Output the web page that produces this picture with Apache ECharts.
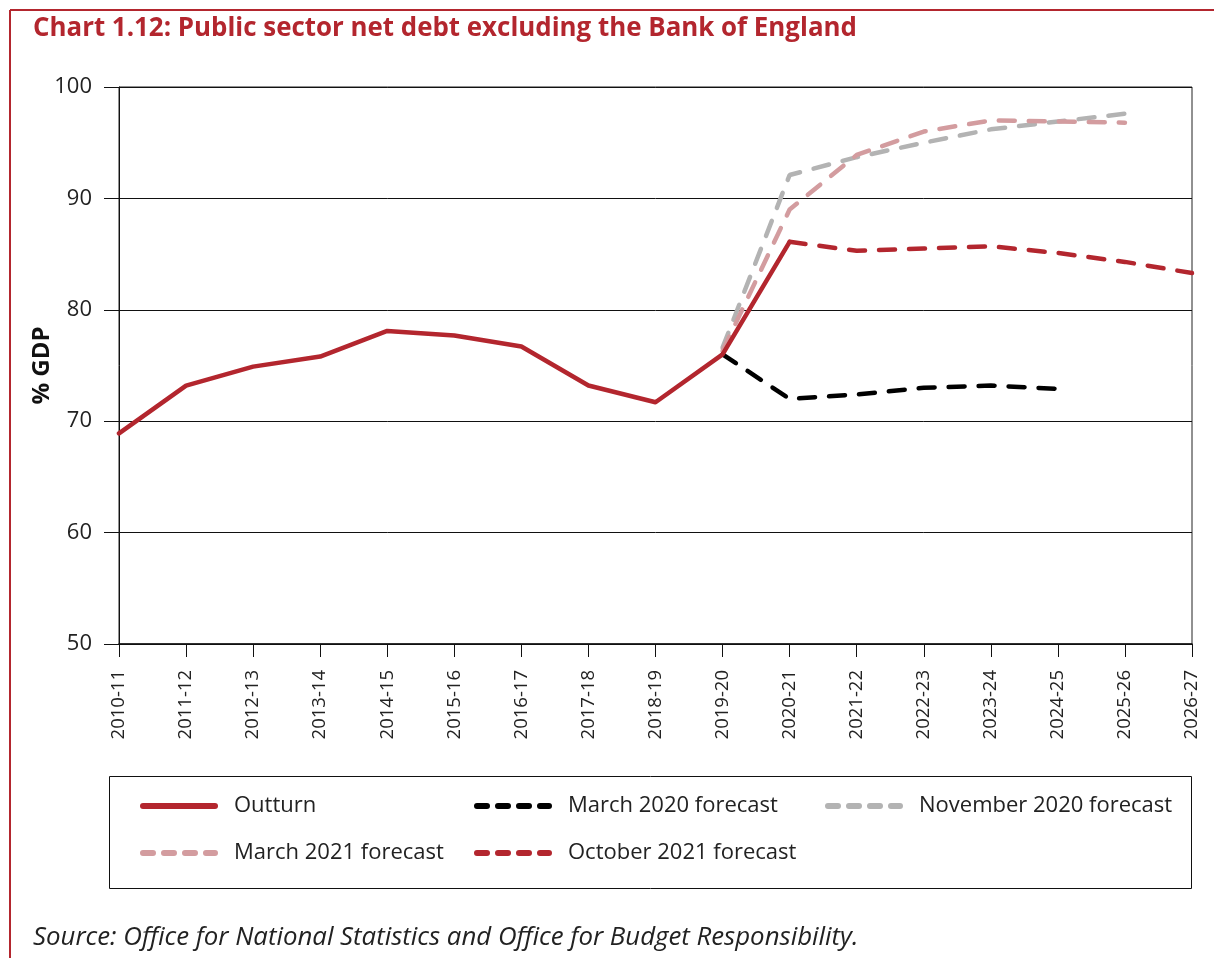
<!DOCTYPE html>
<html>
<head>
<meta charset="utf-8">
<script src="https://cdn.jsdelivr.net/npm/echarts@6/dist/echarts.min.js"></script>
<style>
html,body{margin:0;padding:0;background:#fff;}
#chart{width:1214px;height:958px;}
</style>
</head>
<body>
<div id="chart"></div>
<script>
var categories = ['2010-11','2011-12','2012-13','2013-14','2014-15','2015-16','2016-17','2017-18','2018-19','2019-20','2020-21','2021-22','2022-23','2023-24','2024-25','2025-26','2026-27'];
var outturn =   [68.9, 73.2, 74.9, 75.8, 78.1, 77.7, 76.7, 73.2, 71.7, 76.0, 86.1, null, null, null, null, null, null];
var march2020 = [null, null, null, null, null, null, null, null, null, 76.0, 72.0, 72.4, 73.0, 73.2, 72.9, null, null];
var nov2020 =   [null, null, null, null, null, null, null, null, null, 76.6, 92.1, 93.7, 95.0, 96.2, 96.9, 97.6, null];
var march2021 = [null, null, null, null, null, null, null, null, null, 76.3, 89.0, 93.9, 96.0, 97.0, 96.9, 96.8, null];
var oct2021 =   [null, null, null, null, null, null, null, null, null, null, 86.1, 85.3, 85.5, 85.7, 85.1, 84.3, 83.3];
var yTicks = {min: 50, max: 100, interval: 10};

var RED = '#b3262e';
var FONT = '"Open Sans", "Noto Sans", sans-serif';
var DASH_ICON = 'path://M3,0h10a3,3 0 0 1 0,6h-10a3,3 0 0 1 0,-6z M24,0h10a3,3 0 0 1 0,6h-10a3,3 0 0 1 0,-6z M45,0h10a3,3 0 0 1 0,6h-10a3,3 0 0 1 0,-6z M66,0h9a3,3 0 0 1 0,6h-9a3,3 0 0 1 0,-6z';
var SOLID_ICON = 'path://M3,0h72a3,3 0 0 1 0,6h-72a3,3 0 0 1 0,-6z';
var chart = echarts.init(document.getElementById('chart'), null, {renderer: 'canvas'});

function dashed(name, data, color, z) {
  return {
    name: name, type: 'line', data: data, symbol: 'none', z: z,
    lineStyle: {color: color, width: 4.5, type: [16, 14], cap: 'round'},
    itemStyle: {color: color},
    connectNulls: false, animation: false
  };
}
function legendAt(name, icon, left, top) {
  return {
    data: [{name: name, icon: icon}], left: left, top: top, itemWidth: 78, itemHeight: 6,
    padding: 0,
    textStyle: {fontFamily: FONT, fontSize: 22, color: '#222', padding: [0, 0, 0, 11]},
    itemGap: 10, selectedMode: false
  };
}

chart.setOption({
  animation: false,
  backgroundColor: '#fff',
  grid: {left: 119, right: 22, top: 87, bottom: 314, show: true, borderColor: '#222', borderWidth: 1},
  xAxis: {
    type: 'category', data: categories, boundaryGap: false,
    axisLine: {lineStyle: {color: '#111', width: 1.5}},
    axisTick: {show: true, length: 13, lineStyle: {color: '#111'}, alignWithLabel: true},
    axisLabel: {rotate: 90, fontFamily: FONT, fontSize: 18.5, color: '#222', margin: 26, interval: 0},
    splitLine: {show: false}
  },
  yAxis: {
    type: 'value', min: yTicks.min, max: yTicks.max, interval: yTicks.interval,
    name: '% GDP', nameLocation: 'middle', nameGap: 65, nameRotate: 90, nameMoveOverlap: false,
    nameTextStyle: {fontFamily: FONT, fontSize: 24, fontWeight: 'bold', color: '#111'},
    axisLine: {show: true, lineStyle: {color: '#111', width: 1}},
    axisTick: {show: true, length: 15, lineStyle: {color: '#111'}},
    axisLabel: {fontFamily: FONT, fontSize: 22, color: '#222', margin: 27},
    splitLine: {show: true, lineStyle: {color: '#111', width: 1}}
  },
  legend: [
    legendAt('Outturn', SOLID_ICON, 140, 795),
    legendAt('March 2020 forecast', DASH_ICON, 474, 795),
    legendAt('November 2020 forecast', DASH_ICON, 825, 795),
    legendAt('March 2021 forecast', DASH_ICON, 140, 842),
    legendAt('October 2021 forecast', DASH_ICON, 474, 842)
  ],
  series: [
    dashed('November 2020 forecast', nov2020, '#b3b3b3', 2),
    dashed('March 2021 forecast', march2021, '#d39c9f', 3),
    dashed('March 2020 forecast', march2020, '#000000', 4),
    dashed('October 2021 forecast', oct2021, RED, 5),
    {name: 'Outturn', type: 'line', data: outturn, symbol: 'none', z: 6,
     lineStyle: {color: RED, width: 4.5, cap: 'round', join: 'round'}, itemStyle: {color: RED}}
  ],
  graphic: [
    {type: 'line', shape: {x1: 10, y1: 10, x2: 1214, y2: 10}, style: {stroke: RED, lineWidth: 2}},
    {type: 'line', shape: {x1: 10, y1: 10, x2: 10, y2: 958}, style: {stroke: RED, lineWidth: 2}},
    {type: 'text', left: 33, top: 16, style: {text: 'Chart 1.12: Public sector net debt excluding the Bank of England', fill: RED, font: 'bold 25.9px ' + FONT}},
    {type: 'rect', shape: {x: 109.5, y: 776.5, width: 1082, height: 112}, style: {fill: 'none', stroke: '#111', lineWidth: 1}},
    {type: 'text', left: 33, top: 925, style: {text: 'Source: Office for National Statistics and Office for Budget Responsibility.', fill: '#222', font: 'italic 25.8px ' + FONT}}
  ]
});
</script>
</body>
</html>
